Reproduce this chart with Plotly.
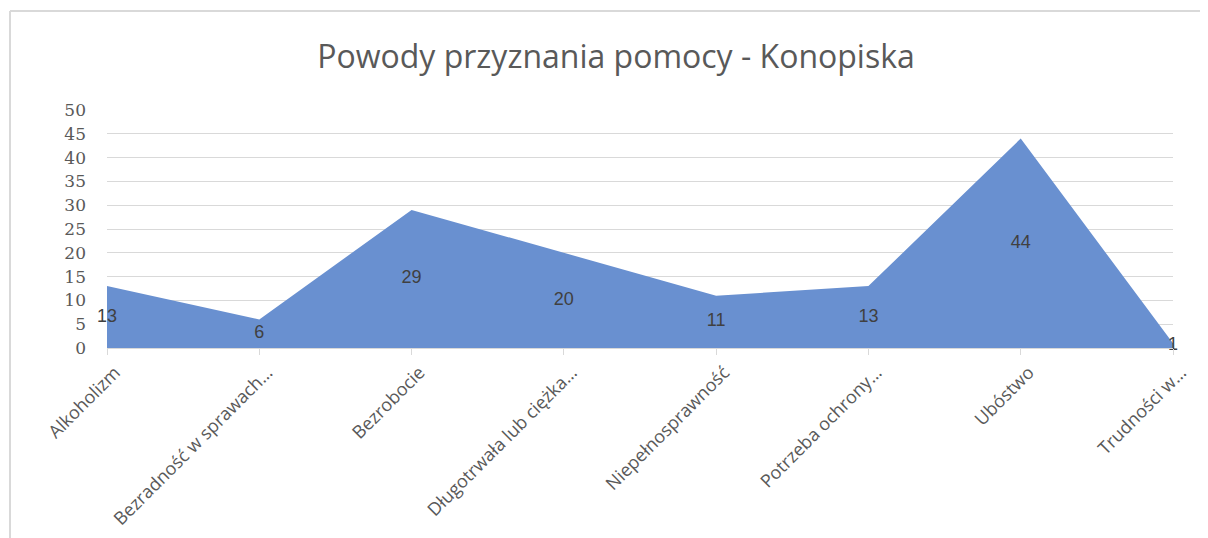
import plotly.graph_objects as go

categories = [
    "Alkoholizm",
    "Bezradność w sprawach…",
    "Bezrobocie",
    "Długotrwała lub ciężka…",
    "Niepełnosprawność",
    "Potrzeba ochrony…",
    "Ubóstwo",
    "Trudności w…",
]
values = [13, 6, 29, 20, 11, 13, 44, 1]
y_ticks = [0, 5, 10, 15, 20, 25, 30, 35, 40, 45, 50]

W, H = 1208, 538
# page body adds an 8px offset, so margins are shifted by that
OFF = 8
L, R, T, B = 107 - OFF, 35 + OFF, 110 - OFF, 190 + OFF
pw, ph = W - L - R, H - T - B


def px(x):
    return (x - OFF - L) / pw


def py(y):
    return (H - B - (y - OFF)) / ph


fig = go.Figure()

fig.add_trace(go.Scatter(
    x=categories,
    y=values,
    mode="lines",
    fill="tozeroy",
    fillcolor="#6990d0",
    line=dict(color="#6990d0", width=0),
    hoverinfo="x+y",
))

# Excel puts area labels at half height
fig.add_trace(go.Scatter(
    x=categories,
    y=[v / 2 for v in values],
    mode="text",
    text=[str(v) for v in values],
    textposition="middle center",
    textfont=dict(family="Liberation Sans, Arial", size=18, color="#404040"),
    hoverinfo="skip",
    cliponaxis=False,
))

fig.update_layout(
    width=W,
    height=H,
    margin=dict(l=L, r=R, t=T, b=B),
    paper_bgcolor="white",
    plot_bgcolor="white",
    showlegend=False,
    title=dict(
        text="Powody przyznania pomocy - Konopiska",
        x=(616 - OFF) / W, xanchor="center",
        y=1 - (57 - OFF) / H, yanchor="middle",
        font=dict(family="Open Sans, Liberation Sans", size=32, color="#595959"),
    ),
    xaxis=dict(
        type="category",
        range=[0, len(categories) - 1],
        showgrid=False,
        showline=True,
        linecolor="#d9d9d9",
        linewidth=1,
        ticks="outside",
        ticklen=6,
        tickcolor="#d9d9d9",
        tickangle=-45,
        ticklabelshift=8,
        tickfont=dict(family="Open Sans, Liberation Sans", size=18, color="#595959"),
    ),
    yaxis=dict(
        range=[0, 50],
        tickvals=y_ticks,
        showgrid=True,
        gridcolor="#d9d9d9",
        gridwidth=1,
        zeroline=False,
        showline=False,
        ticks="",
        ticklabelstandoff=20,
        tickfont=dict(family="DejaVu Serif, Liberation Serif", size=17, color="#595959"),
    ),
    shapes=[
        dict(type="line", xref="paper", yref="paper",
             x0=px(10), x1=px(W + 20), y0=py(11), y1=py(11),
             line=dict(color="#d9d9d9", width=2)),
        dict(type="line", xref="paper", yref="paper",
             x0=px(10), x1=px(10), y0=py(11), y1=py(H + 20),
             line=dict(color="#d9d9d9", width=2)),
    ],
)

fig.write_html("out.html")
